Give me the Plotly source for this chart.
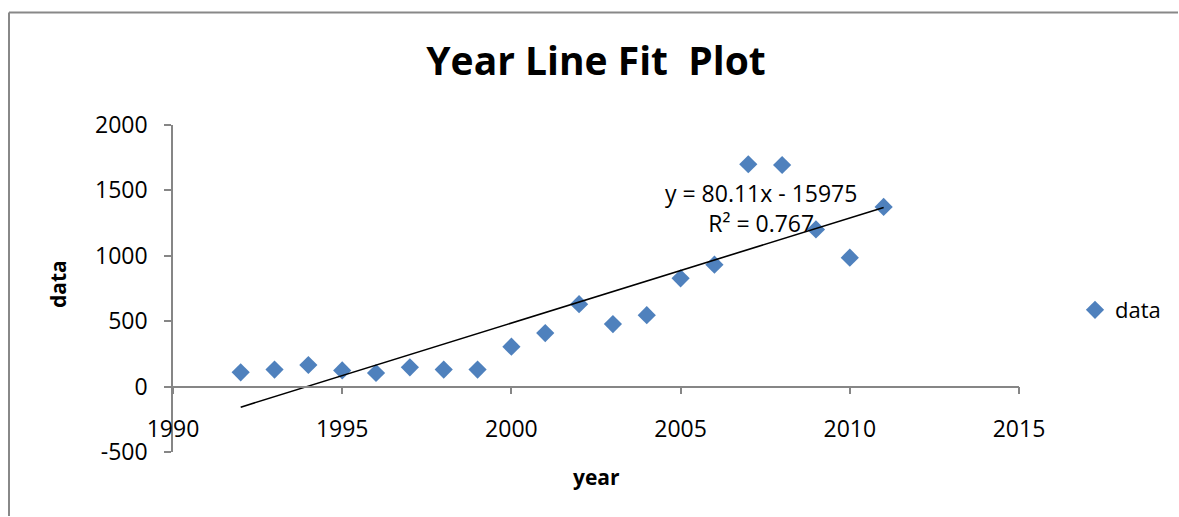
import numpy as np
import plotly.graph_objects as go

# Observations by year
years = [1992, 1993, 1994, 1995, 1996, 1997, 1998, 1999, 2000, 2001,
         2002, 2003, 2004, 2005, 2006, 2007, 2008, 2009, 2010, 2011]
values = [109, 130, 165, 124, 104, 147, 130, 130, 305, 409,
          630, 478, 546, 828, 932, 1700, 1694, 1202, 986, 1374]

x_ticks = [1990, 1995, 2000, 2005, 2010, 2015]
x_tick_labels = ["1990", "1995", "2000", "2005", "2010", "2015"]
y_ticks = [-500, 0, 500, 1000, 1500, 2000]
y_tick_labels = ["-500", "0", "500", "1000", "1500", "2000"]

equation_text = "y = 80.11x - 15975<br>R² = 0.767"

# Least-squares linear trend through the observations
slope, intercept = np.polyfit(years, values, 1)
trend_x = [years[0], years[-1]]
trend_y = [slope * x + intercept for x in trend_x]

W, H = 1179, 517
L, R, T, B = 173, 160, 125, 65
plot_w, plot_h = W - L - R, H - T - B

FONT = "Open Sans"
AXIS_GREY = "#868686"
BLUE = "#4F81BD"


def px_x(p):
    return (p - L) / plot_w


def px_y(p):
    return (H - B - p) / plot_h


fig = go.Figure()

fig.add_trace(go.Scatter(
    x=years, y=values, mode="markers", name="data",
    marker=dict(symbol="diamond", size=14, color=BLUE),
))

fig.add_trace(go.Scatter(
    x=trend_x, y=trend_y, mode="lines", showlegend=False,
    line=dict(color="black", width=1.6),
))

fig.update_layout(
    width=W, height=H,
    margin=dict(l=L, r=R, t=T, b=B, pad=0),
    paper_bgcolor="white", plot_bgcolor="white",
    font=dict(family=FONT, size=23, color="black"),
    title=dict(
        text="<b>Year Line Fit  Plot</b>",
        x=0.5, xref="paper", xanchor="center",
        y=1 - 61 / H, yanchor="middle",
        font=dict(family=FONT, size=39, color="black"),
    ),
    xaxis=dict(
        range=[1990, 2015], tickvals=x_ticks, ticktext=x_tick_labels,
        showgrid=False, zeroline=False,
        showline=True, linecolor=AXIS_GREY, linewidth=1.6,
        ticks="outside", ticklen=7, tickcolor=AXIS_GREY, tickwidth=1.6,
        anchor="free", position=0.2,
        ticklabelstandoff=15,
        tickfont=dict(family=FONT, size=23, color="black"),
    ),
    yaxis=dict(
        range=[-500, 2000], tickvals=y_ticks, ticktext=y_tick_labels,
        showgrid=False, zeroline=False,
        showline=True, linecolor=AXIS_GREY, linewidth=1.6,
        ticks="outside", ticklen=7, tickcolor=AXIS_GREY, tickwidth=1.6,
        ticklabelstandoff=12,
        tickfont=dict(family=FONT, size=23, color="black"),
    ),
    legend=dict(
        x=px_x(1075), y=px_y(310), xanchor="left", yanchor="middle",
        font=dict(family=FONT, size=22, color="black"),
        bgcolor="rgba(0,0,0,0)",
    ),
    showlegend=True,
)

# Axis titles
fig.add_annotation(
    text="<b>data</b>", xref="paper", yref="paper",
    x=px_x(58), y=px_y(284), textangle=-90, showarrow=False,
    xanchor="center", yanchor="middle",
    font=dict(family=FONT, size=21, color="black"),
)
fig.add_annotation(
    text="<b>year</b>", xref="paper", yref="paper",
    x=px_x(596), y=px_y(477), showarrow=False,
    xanchor="center", yanchor="middle",
    font=dict(family=FONT, size=21, color="black"),
)

# Trend equation label
fig.add_annotation(
    text=equation_text, xref="paper", yref="paper",
    x=px_x(761), y=px_y(208), showarrow=False,
    xanchor="center", yanchor="middle", align="center",
    font=dict(family=FONT, size=23, color="black"),
)

# Chart frame: top and left edges
frame = dict(color="#888888", width=2)
fig.add_shape(type="line", xref="paper", yref="paper",
              x0=px_x(9), x1=px_x(W - 1), y0=px_y(12.5), y1=px_y(12.5),
              line=frame, layer="below")
fig.add_shape(type="line", xref="paper", yref="paper",
              x0=px_x(9), x1=px_x(9), y0=px_y(12.5), y1=px_y(H - 1),
              line=frame, layer="below")

fig.write_html("out.html", config={"displayModeBar": False})
